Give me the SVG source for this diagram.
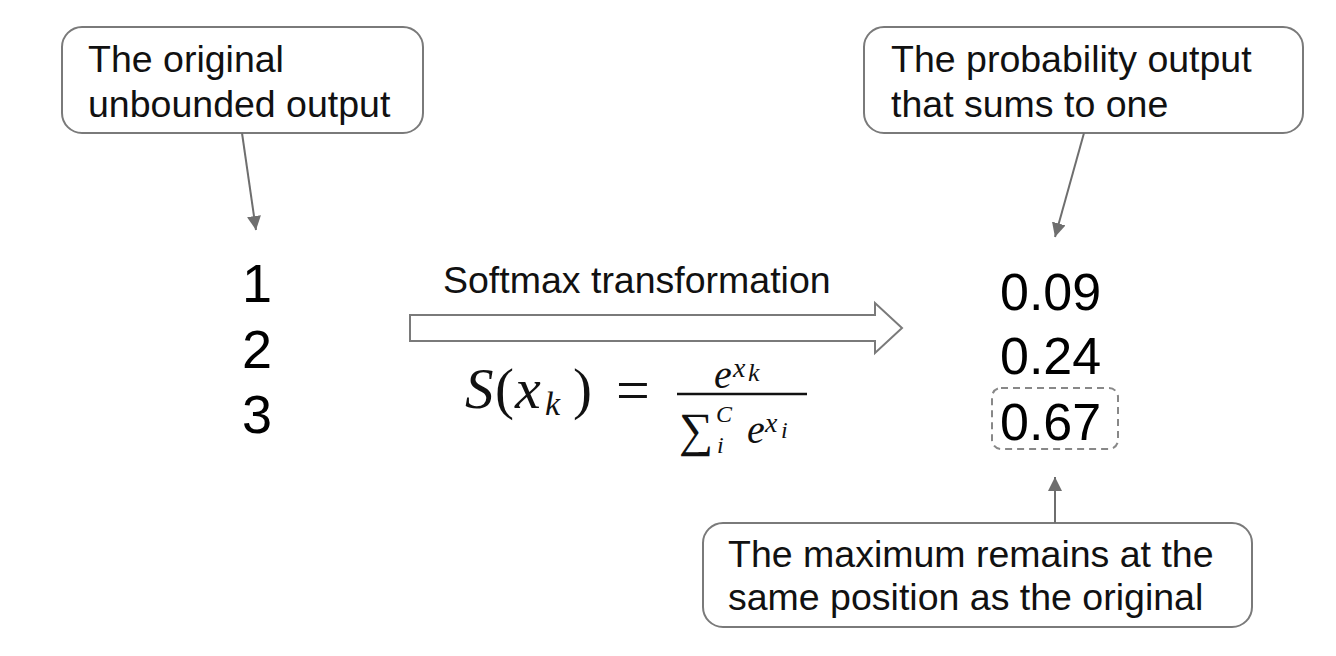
<svg xmlns="http://www.w3.org/2000/svg" width="1336" height="656" viewBox="0 0 1336 656">
<style>
.box{fill:#fff;stroke:#7a7a7a;stroke-width:2}
.lbl{font-family:"Liberation Sans",Arial,sans-serif;font-size:37.5px;fill:#111}
.num{font-family:"Liberation Sans",Arial,sans-serif;font-size:54px;fill:#000}
.conn{stroke:#6e6e6e;stroke-width:2;fill:none}
.m{font-family:"Liberation Serif","Times New Roman",serif;font-style:italic;fill:#111}
.mu{font-family:"Liberation Serif","Times New Roman",serif;fill:#111}
</style>
<defs>
<marker id="ah" viewBox="0 0 10 10" refX="10" refY="5" markerWidth="14" markerHeight="14" markerUnits="userSpaceOnUse" orient="auto">
<path d="M0,0 L10,5 L0,10 z" fill="#6e6e6e"/>
</marker>
</defs>
<rect width="1336" height="656" fill="#fff"/>
<g id="box-original">
<rect class="box" x="62" y="27" width="361" height="106" rx="20"/>
<text class="lbl" x="88" y="72">The original</text>
<text class="lbl" x="88" y="117">unbounded output</text>
</g>
<g id="box-probability">
<rect class="box" x="864" y="27" width="439" height="106" rx="20"/>
<text class="lbl" x="891" y="72">The probability output</text>
<text class="lbl" x="891" y="117">that sums to one</text>
</g>
<g id="box-maximum">
<rect class="box" x="703" y="523" width="549" height="104" rx="20"/>
<text class="lbl" x="728" y="567">The maximum remains at the</text>
<text class="lbl" x="728" y="610">same position as the original</text>
</g>
<g id="inputs">
<text class="num" x="257" y="302" text-anchor="middle">1</text>
<text class="num" x="257" y="368" text-anchor="middle">2</text>
<text class="num" x="257" y="433" text-anchor="middle">3</text>
</g>
<g id="outputs">
<text class="num" x="1000" y="310" style="font-size:52px">0.09</text>
<text class="num" x="1000" y="374" style="font-size:52px">0.24</text>
<text class="num" x="1000" y="440" style="font-size:52px">0.67</text>
<rect x="992" y="388" width="126" height="61" rx="9" fill="none" stroke="#888" stroke-width="2" stroke-dasharray="7,5"/>
</g>
<g id="transform">
<text class="lbl" x="443" y="293">Softmax transformation</text>
<path d="M410,315 L875,315 L875,303 L902,328 L875,353 L875,341 L410,341 z" fill="#fff" stroke="#7a7a7a" stroke-width="2" stroke-linejoin="miter"/>
</g>
<g id="formula">
<text class="m" x="465" y="408" font-size="57">S</text>
<text class="mu" x="495" y="408" font-size="57">(</text>
<text class="m" x="515" y="408" font-size="58">x</text>
<text class="m" x="545" y="415" font-size="34">k</text>
<text class="mu" x="573" y="408" font-size="57">)</text>
<text class="mu" x="616" y="410" font-size="60">=</text>
<line x1="677" y1="394" x2="807" y2="394" stroke="#111" stroke-width="2.5"/>
<text class="m" x="714" y="388" font-size="40">e</text>
<text class="m" x="733" y="377" font-size="28">x</text>
<text class="m" x="748" y="381" font-size="26">k</text>
<text class="mu" x="679" y="446" font-size="48">∑</text>
<text class="m" x="716" y="422" font-size="24">C</text>
<text class="m" x="717" y="453" font-size="24">i</text>
<text class="m" x="747" y="443" font-size="40">e</text>
<text class="m" x="765" y="432" font-size="28">x</text>
<text class="m" x="781" y="438" font-size="24">i</text>
</g>
<g id="connectors">
<line class="conn" x1="242" y1="133" x2="256" y2="230" marker-end="url(#ah)"/>
<line class="conn" x1="1084" y1="133" x2="1055" y2="237" marker-end="url(#ah)"/>
<line class="conn" x1="1055" y1="523" x2="1055" y2="477" marker-end="url(#ah)"/>
</g>
</svg>
